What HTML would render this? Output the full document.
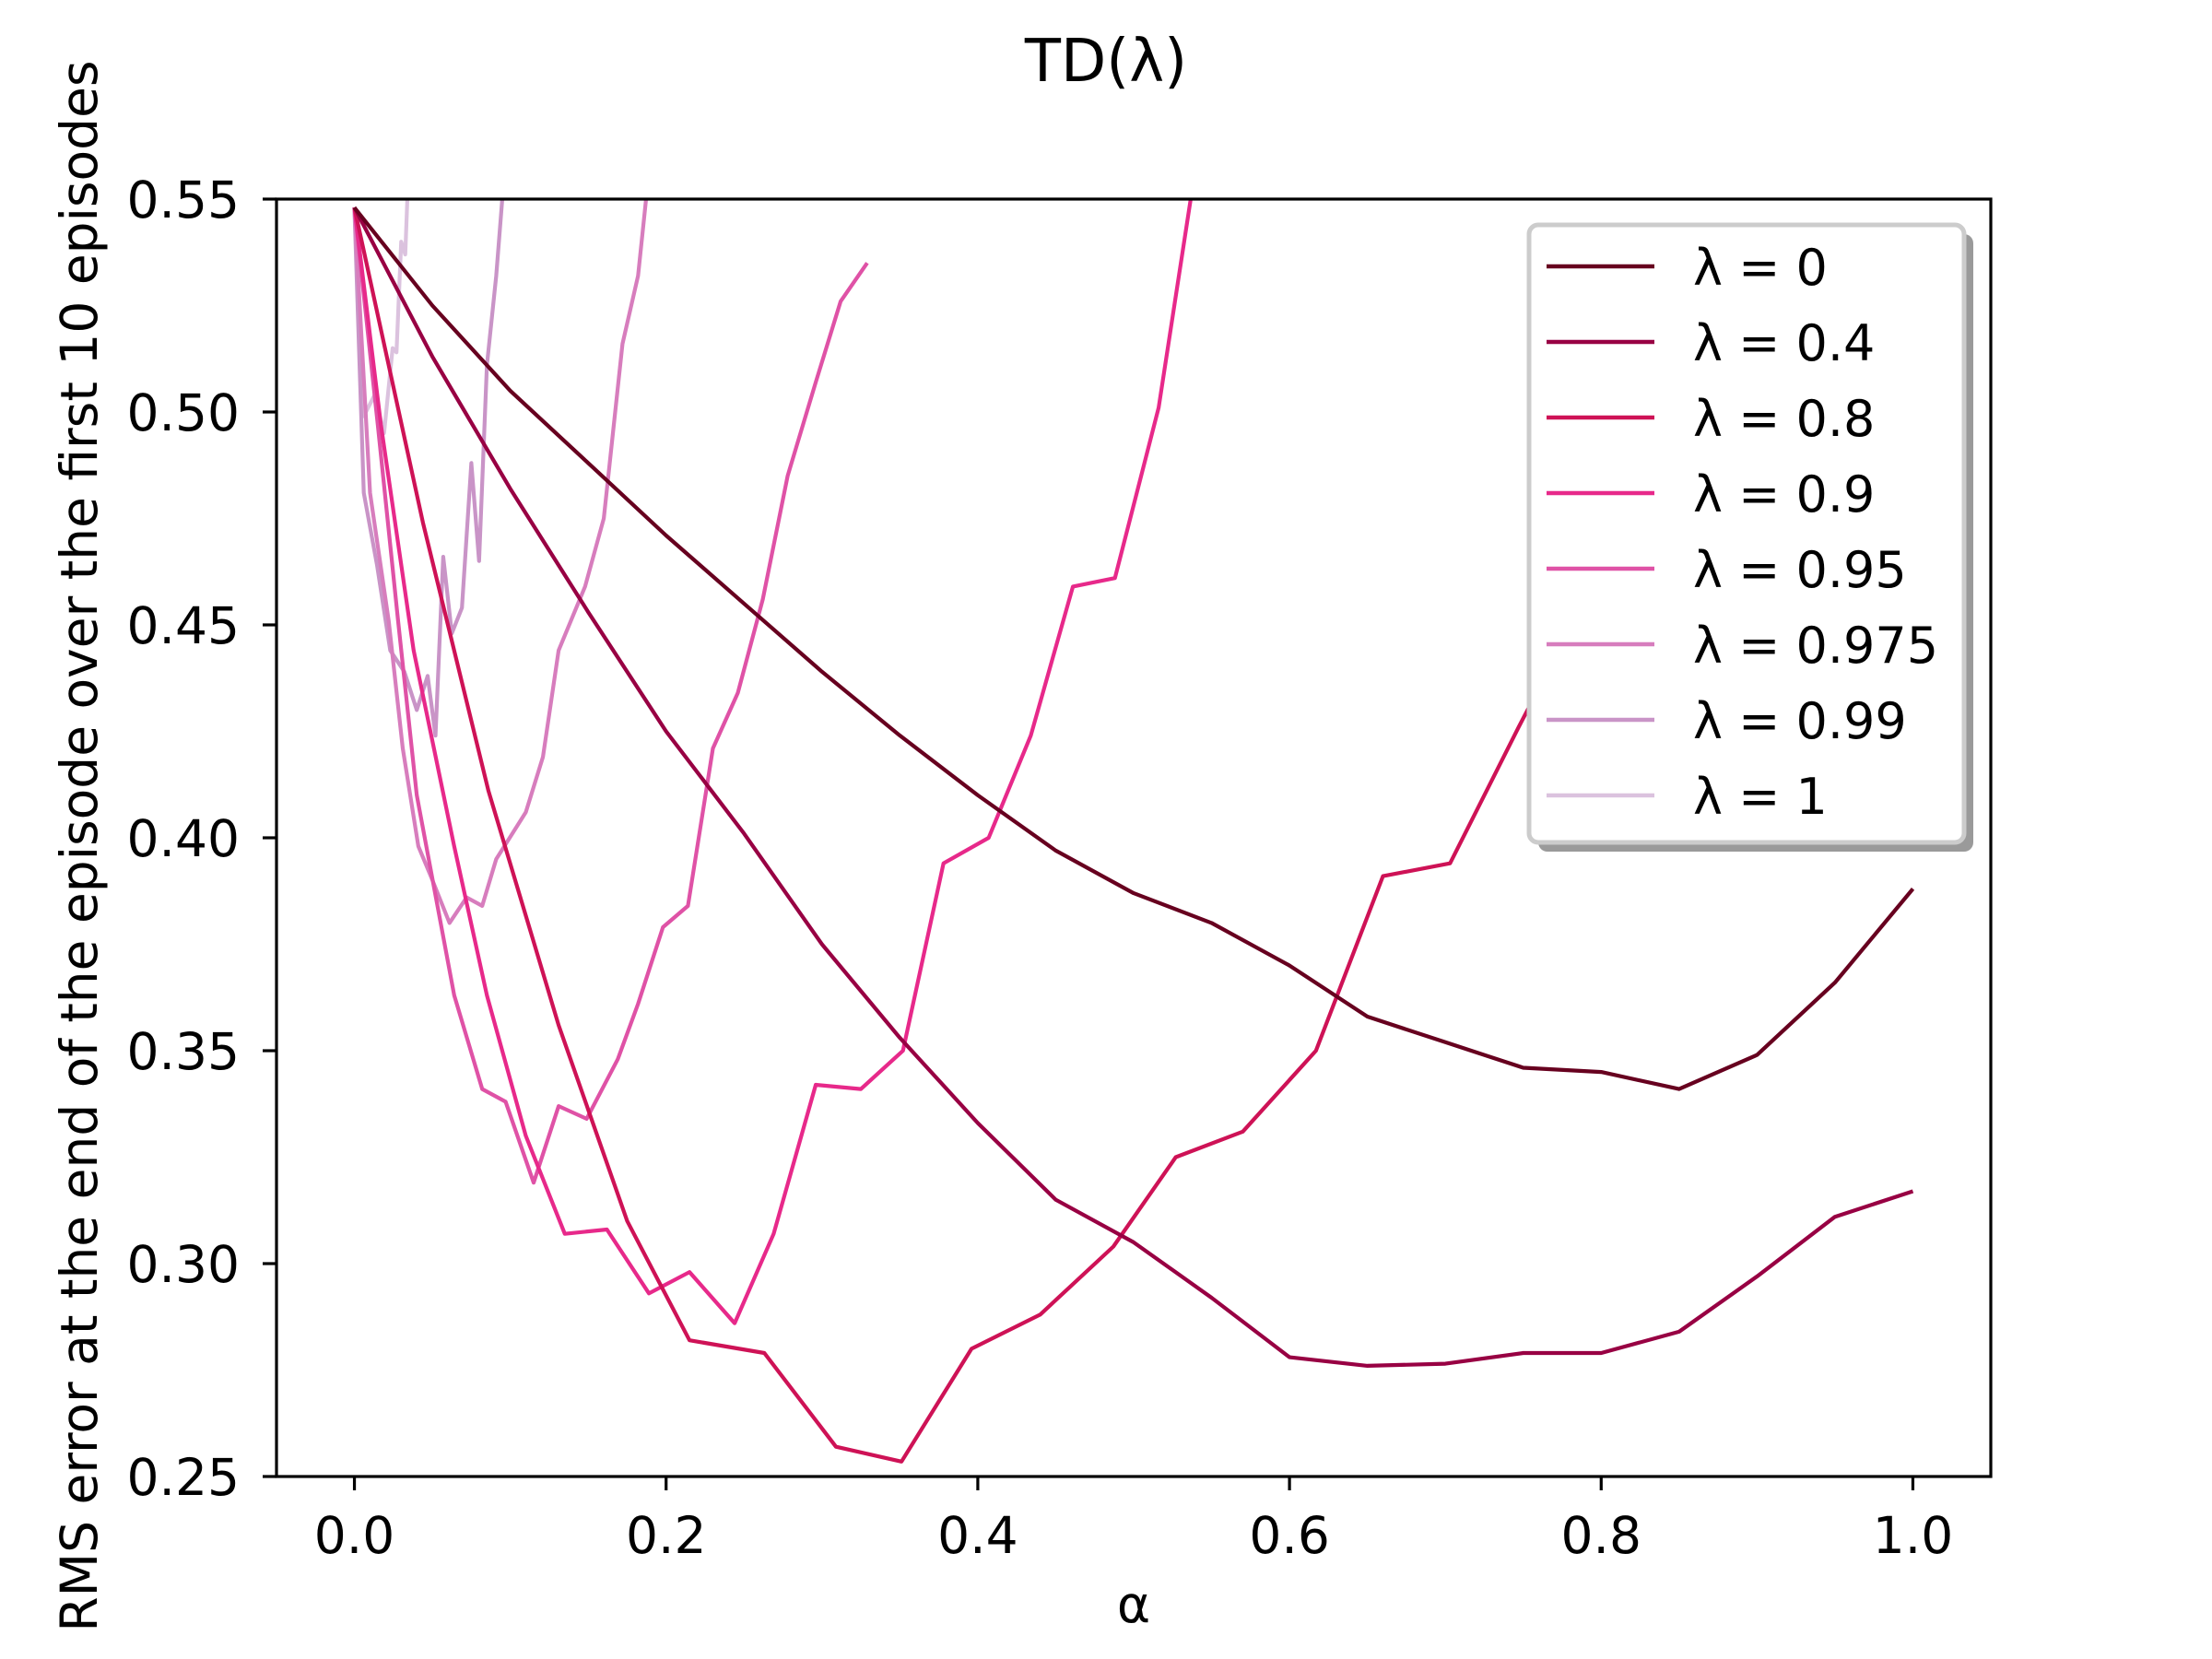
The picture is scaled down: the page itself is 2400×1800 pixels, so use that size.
<!DOCTYPE html>
<html><head><meta charset="utf-8"><title>TD(λ)</title>
<style>html,body{margin:0;padding:0;background:#fff}svg{display:block}text{font-family:"DejaVu Sans","Liberation Sans",sans-serif;fill:#000}</style></head>
<body>
<svg id="chart" width="2400" height="1800" viewBox="0 0 2400 1800" xmlns="http://www.w3.org/2000/svg">
<defs><clipPath id="clip"><rect x="300" y="216" width="1860" height="1386"/></clipPath></defs>
<rect width="2400" height="1800" fill="#fff"/>
<text x="1200" y="88" font-size="64" text-anchor="middle">TD(λ)</text>
<g id="plot" clip-path="url(#clip)"></g>
<g id="axes"></g>
<rect x="300" y="216" width="1860" height="1386" fill="none" stroke="#000" stroke-width="3.2"/>
<text x="1230" y="1760" font-size="55" text-anchor="middle">α</text>
<text transform="translate(105,918) rotate(-90)" font-size="55" text-anchor="middle">RMS error at the end of the episode over the first 10 episodes</text>
<g id="legend"></g>
</svg>
<script>
const lambdaLabels = ["λ = 0","λ = 0.4","λ = 0.8","λ = 0.9","λ = 0.95","λ = 0.975","λ = 0.99","λ = 1"];
const seriesColors = ["#67001f","#980043","#ce1256","#e7298a","#df52a6","#d77dbd","#c994c7","#dbc2de"];
const alphaStep = [0,0.05,0.1,0.15,0.2,0.25,0.3,0.35,0.4,0.45,0.5,0.55,0.6,0.65,0.7,0.75,0.8,0.85,0.9,0.95,1.0];
const rms0 = [0.548,0.525,0.505,0.488,0.471,0.455,0.439,0.424,0.410,0.397,0.387,0.380,0.370,0.358,0.352,0.346,0.345,0.341,0.349,0.366,0.388];
const rms04 = [0.548,0.513,0.482,0.453,0.425,0.401,0.375,0.353,0.333,0.315,0.305,0.292,0.278,0.276,0.2765,0.279,0.279,0.284,0.297,0.311,0.317];
const alpha08 = [0,0.044,0.086,0.131,0.175,0.215,0.263,0.309,0.351,0.396,0.44,0.487,0.527,0.57,0.617,0.66,0.703,0.747,0.787,0.83,0.87];
const rms08 = [0.548,0.474,0.411,0.356,0.31,0.282,0.279,0.257,0.2535,0.280,0.288,0.304,0.325,0.331,0.350,0.391,0.394,0.426,0.454,0.49,0.53];
const alpha09 = [0,0.017,0.038,0.064,0.085,0.11,0.135,0.162,0.189,0.215,0.244,0.269,0.296,0.325,0.352,0.378,0.407,0.434,0.461,0.488,0.516,0.545];
const rms09 = [0.548,0.497,0.444,0.398,0.363,0.33,0.307,0.308,0.293,0.298,0.286,0.307,0.342,0.341,0.350,0.394,0.400,0.424,0.459,0.461,0.501,0.57];
const alpha095 = [0,0.015,0.028,0.04,0.064,0.082,0.097,0.115,0.131,0.149,0.169,0.182,0.198,0.214,0.23,0.246,0.262,0.278,0.296,0.312,0.329];
const rms095 = [0.548,0.497,0.451,0.41,0.363,0.341,0.338,0.319,0.337,0.334,0.348,0.361,0.379,0.384,0.421,0.434,0.456,0.485,0.507,0.526,0.535];
const alpha0975 = [0,0.01,0.022,0.031,0.041,0.049,0.061,0.072,0.082,0.091,0.11,0.121,0.131,0.148,0.16,0.172,0.182,0.19];
const rms0975 = [0.548,0.481,0.451,0.421,0.398,0.391,0.380,0.386,0.384,0.395,0.406,0.419,0.444,0.459,0.475,0.516,0.532,0.56];
const alpha099 = [0,0.006,0.0145,0.023,0.032,0.04,0.047,0.052,0.057,0.0625,0.069,0.075,0.08,0.085,0.091,0.097];
const rms099 = [0.548,0.481,0.464,0.444,0.439,0.430,0.438,0.424,0.466,0.448,0.454,0.488,0.465,0.511,0.532,0.56];
const alpha1 = [0,0.006,0.013,0.019,0.0245,0.027,0.030,0.0326,0.035];
const rms1 = [0.548,0.499,0.504,0.495,0.515,0.514,0.540,0.537,0.56];
const xTicks = [0,0.2,0.4,0.6,0.8,1.0];
const xTickLabels = ["0.0","0.2","0.4","0.6","0.8","1.0"];
const yTicks = [0.25,0.30,0.35,0.40,0.45,0.50,0.55];
const yTickLabels = ["0.25","0.30","0.35","0.40","0.45","0.50","0.55"];

const X0=300,X1=2160,Y0=216,Y1=1602,XMIN=-0.05,XMAX=1.05,YMIN=0.25,YMAX=0.55;
function sx(v){return X0+(v-XMIN)/(XMAX-XMIN)*(X1-X0);}
function sy(v){return Y1-(v-YMIN)/(YMAX-YMIN)*(Y1-Y0);}
const NS="http://www.w3.org/2000/svg";
const seriesX=[alphaStep,alphaStep,alpha08,alpha09,alpha095,alpha0975,alpha099,alpha1];
const seriesY=[rms0,rms04,rms08,rms09,rms095,rms0975,rms099,rms1];
const plot=document.getElementById('plot');
for(let s=seriesY.length-1;s>=0;s--){
  const p=document.createElementNS(NS,'polyline');
  p.setAttribute('points',seriesY[s].map((v,i)=>sx(seriesX[s][i]).toFixed(1)+','+sy(v).toFixed(1)).join(' '));
  p.setAttribute('fill','none');p.setAttribute('stroke',seriesColors[s]);p.setAttribute('stroke-width','4.2');
  p.setAttribute('stroke-linejoin','round');
  
  
  plot.appendChild(p);
}
const axes=document.getElementById('axes');
xTicks.forEach((t,i)=>{
  const l=document.createElementNS(NS,'line');
  l.setAttribute('x1',sx(t));l.setAttribute('x2',sx(t));l.setAttribute('y1',Y1);l.setAttribute('y2',Y1+15);
  l.setAttribute('stroke','#000');l.setAttribute('stroke-width','3.2');
  
  
  axes.appendChild(l);
  const tx=document.createElementNS(NS,'text');
  tx.setAttribute('x',sx(t));tx.setAttribute('y',Y1+83);tx.setAttribute('font-size','55');tx.setAttribute('text-anchor','middle');
  tx.textContent=xTickLabels[i];
  
  
  axes.appendChild(tx);
});
yTicks.forEach((t,i)=>{
  const l=document.createElementNS(NS,'line');
  l.setAttribute('x1',X0-15);l.setAttribute('x2',X0);l.setAttribute('y1',sy(t));l.setAttribute('y2',sy(t));
  l.setAttribute('stroke','#000');l.setAttribute('stroke-width','3.2');
  
  
  axes.appendChild(l);
  const tx=document.createElementNS(NS,'text');
  tx.setAttribute('x',X0-40);tx.setAttribute('y',sy(t)+20);tx.setAttribute('font-size','55');tx.setAttribute('text-anchor','end');
  tx.textContent=yTickLabels[i];
  
  
  axes.appendChild(tx);
});
const lg=document.getElementById('legend');


lg.innerHTML='<rect x="1669" y="254" width="472" height="670" rx="10" fill="#888" opacity="0.85"/><rect x="1659" y="244" width="472" height="670" rx="10" fill="#fff" stroke="#ccc" stroke-width="5"/>';
lambdaLabels.forEach((lab,i)=>{
  const y=289+i*82;
  const l=document.createElementNS(NS,'line');
  l.setAttribute('x1',1678);l.setAttribute('x2',1795);l.setAttribute('y1',y);l.setAttribute('y2',y);
  l.setAttribute('stroke',seriesColors[i]);l.setAttribute('stroke-width','4.5');
  
  
  lg.appendChild(l);
  const t=document.createElementNS(NS,'text');
  t.setAttribute('x',1837);t.setAttribute('y',y+20);t.setAttribute('font-size','54');
  t.textContent=lab;
  
  
  lg.appendChild(t);
});
</script>
</body></html>
